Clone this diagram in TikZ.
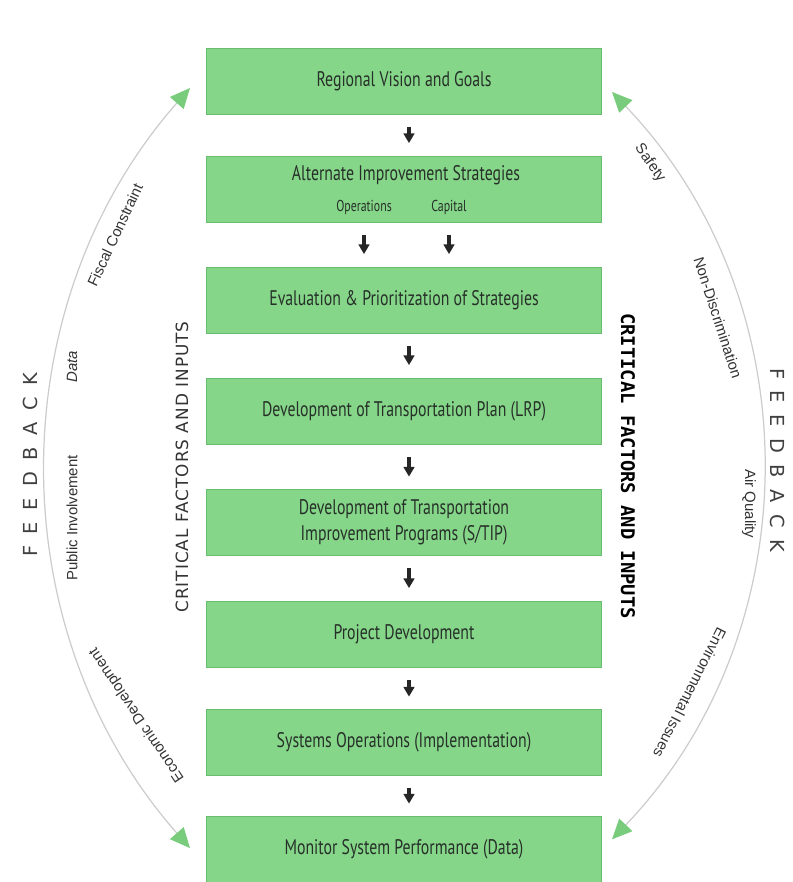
\documentclass[tikz,border=0pt]{standalone}
\usepackage{fontspec}
\setmainfont{PT Sans}
\newfontfamily\boxfont[FakeStretch=0.75]{PT Sans}
\newfontfamily\critfont[LetterSpace=6]{DejaVu Sans}
\newfontfamily\critmono{DejaVu Sans Mono}
\newfontfamily\fbfont[LetterSpace=28]{DejaVu Sans}
\newfontfamily\labfont{Liberation Sans}
\usetikzlibrary{arrows.meta}
\definecolor{boxgreen}{RGB}{134,214,138}
\definecolor{edgegreen}{RGB}{104,190,108}
\definecolor{tipgreen}{RGB}{120,204,124}
\definecolor{txtdark}{RGB}{38,48,40}
\begin{document}
\begin{tikzpicture}[x=0.02cm,y=0.02cm,
  stage/.style={draw=edgegreen,fill=boxgreen,line width=0.4pt,minimum width=7.9cm,minimum height=1.32cm,
    inner sep=0pt,text=txtdark,font=\boxfont\fontsize{12}{15}\selectfont,align=center},
  stagetext/.style={text=txtdark,inner sep=1pt},
  flow/.style={black!85,line width=2.8pt,-{Triangle[length=5.5pt,width=6pt]},shorten <=0.25cm,shorten >=0.25cm},
  feedback/.style={gray!40,line width=0.7pt,
    {Triangle[length=0.4cm,width=0.36cm,color=tipgreen]}-{Triangle[length=0.4cm,width=0.36cm,color=tipgreen]}},
  factor/.style={font=\labfont\fontsize{8.5}{10}\selectfont,text=black!80,inner sep=1pt}]
\useasboundingbox (0,0) rectangle (792,882);
% process steps
\node[stage] (vision) at (404,801) {Regional Vision and Goals};
\node[stage] (alternate) at (404,693) {};
\node[stagetext,font=\boxfont\fontsize{12}{15}\selectfont] (altname) at (406,707) {Alternate Improvement Strategies};
\node[stagetext,font=\boxfont\fontsize{9}{11}\selectfont] (operations) at (364,675) {Operations};
\node[stagetext,font=\boxfont\fontsize{9}{11}\selectfont] (capital) at (449,675) {Capital};
\node[stage] (evaluation) at (404,582) {Evaluation \& Prioritization of Strategies};
\node[stage] (lrp) at (404,471) {Development of Transportation Plan (LRP)};
\node[stage] (stip) at (404,359.5) {Development of Transportation\\Improvement Programs (S/TIP)};
\node[stage] (project) at (404,248) {Project Development};
\node[stage] (sysops) at (404,139.5) {Systems Operations (Implementation)};
\node[stage] (monitor) at (404,32.5) {Monitor System Performance (Data)};
\draw[flow] ([xshift=0.1cm]vision.south) -- ([xshift=0.1cm]alternate.north);
\draw[flow] (operations |- alternate.south) -- (operations |- evaluation.north);
\draw[flow] (capital |- alternate.south) -- (capital |- evaluation.north);
\draw[flow] ([xshift=0.1cm]evaluation.south) -- ([xshift=0.1cm]lrp.north);
\draw[flow] ([xshift=0.1cm]lrp.south) -- ([xshift=0.1cm]stip.north);
\draw[flow] ([xshift=0.1cm]stip.south) -- ([xshift=0.1cm]project.north);
\draw[flow] ([xshift=0.1cm]project.south) -- ([xshift=0.1cm]sysops.north);
\draw[flow] ([xshift=0.1cm]sysops.south) -- ([xshift=0.1cm]monitor.north);
% side captions
\node[rotate=90,text=black!80,font=\critfont\fontsize{9.6}{11}\selectfont] (critleft) at (182,415) {CRITICAL FACTORS AND INPUTS};
\node[rotate=-90,font=\critmono\bfseries\fontsize{10.7}{12}\selectfont] (critright) at (628,416) {CRITICAL FACTORS AND INPUTS};
\node[rotate=90,text=black!75,font=\fbfont\fontsize{11}{12}\selectfont] (fbleft) at (30,417) {F E E D B A C K};
\node[rotate=-90,text=black!75,font=\fbfont\fontsize{11}{12}\selectfont] (fbright) at (778,422) {F E E D B A C K};
% feedback loops
\coordinate (fbltop) at (190,794);
\coordinate (fbrtop) at (612,790);
\draw[feedback] (fbltop) arc[start angle=138.7,end angle=221.3,radius=11.52cm];
\draw[feedback] (fbrtop) arc[start angle=43.7,end angle=-43.7,radius=10.82cm];
\node[factor,rotate=65] (fiscal) at (115,647) {Fiscal Constraint};
\node[factor,rotate=90] (data) at (72,515) {\itshape Data};
\node[factor,rotate=90] (public) at (72,364) {Public Involvement};
\node[factor,rotate=124] (economic) at (137,167) {Economic Development};
\node[factor,rotate=-55] (safety) at (650,719) {Safety};
\node[factor,rotate=-72] (nondisc) at (718,564) {Non-Discrimination};
\node[factor,rotate=-90] (air) at (749,378) {Air Quality};
\node[factor,rotate=-117] (environ) at (690,189) {Environmental Issues};
\end{tikzpicture}
\end{document}
